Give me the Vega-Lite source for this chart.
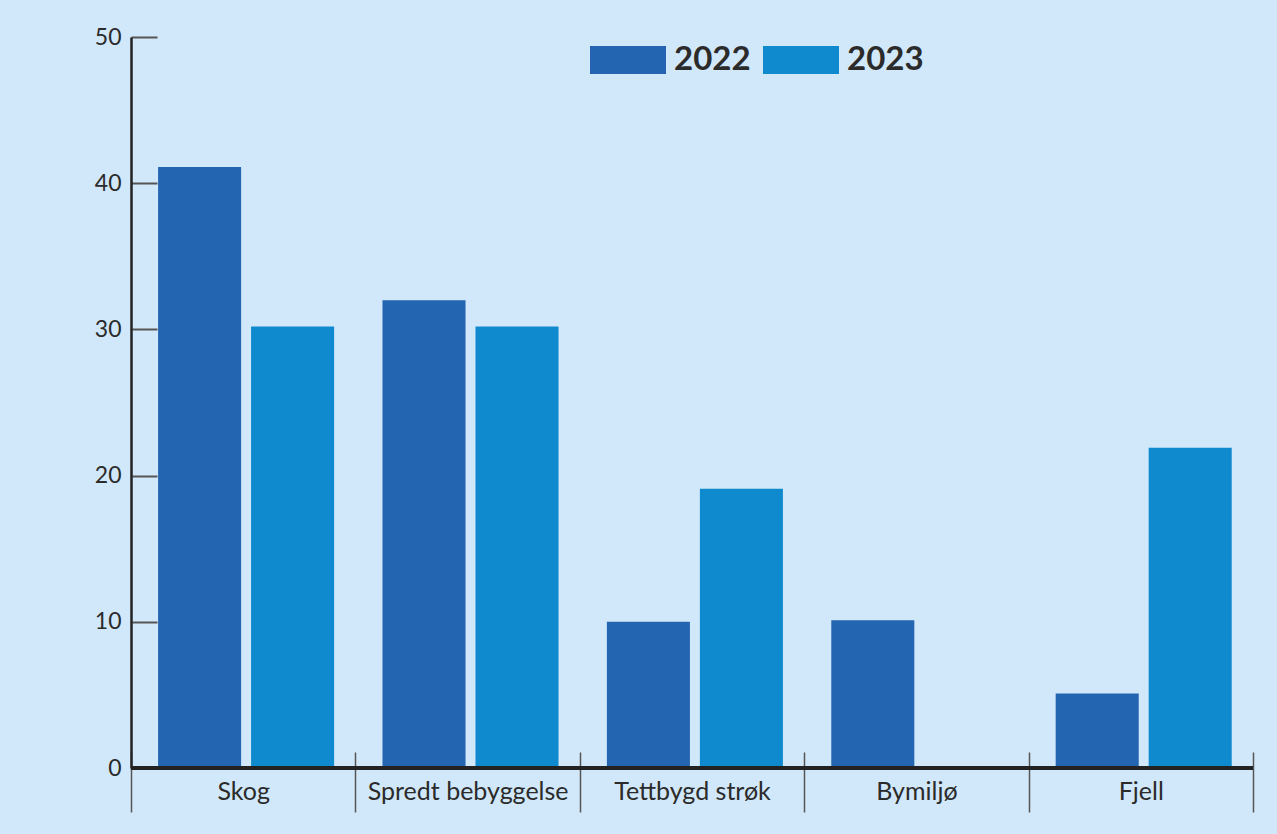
{
  "$schema": "https://vega.github.io/schema/vega-lite/v6.json",
  "autosize": {"type": "none"},
  "width": 1122,
  "height": 731,
  "padding": {"left": 131, "top": 37, "right": 24, "bottom": 66},
  "background": "#d1e8fa",
  "config": {
    "view": {"stroke": null},
    "font": "Lato",
    "axis": {"labelFont": "Lato", "labelColor": "#2b2b2b", "grid": false, "title": null}
  },
  "data": {
    "values": [
      {"kategori": "Skog", "år": "2022", "verdi": 41.1},
      {"kategori": "Skog", "år": "2023", "verdi": 30.2},
      {"kategori": "Spredt bebyggelse", "år": "2022", "verdi": 32.0},
      {"kategori": "Spredt bebyggelse", "år": "2023", "verdi": 30.2},
      {"kategori": "Tettbygd strøk", "år": "2022", "verdi": 10.0},
      {"kategori": "Tettbygd strøk", "år": "2023", "verdi": 19.1},
      {"kategori": "Bymiljø", "år": "2022", "verdi": 10.1},
      {"kategori": "Bymiljø", "år": "2023", "verdi": 0},
      {"kategori": "Fjell", "år": "2022", "verdi": 5.1},
      {"kategori": "Fjell", "år": "2023", "verdi": 21.9}
    ]
  },
  "layer": [
    {
      "mark": {"type": "bar"},
      "encoding": {
        "x": {
          "field": "kategori", "type": "nominal", "sort": null,
          "scale": {"paddingInner": 0, "paddingOuter": 0},
          "axis": {
            "offset": -16, "domain": false, "tickSize": 60, "tickBand": "extent",
            "tickColor": "#555555", "tickWidth": 1.5, "labelAngle": 0,
            "labelFontSize": 25, "labelPadding": -21, "labelBaseline": "middle",
            "labelLimit": 0
          }
        },
        "xOffset": {
          "field": "år", "type": "nominal",
          "scale": {"paddingInner": 0.107, "paddingOuter": 0.26, "align": 0.56}
        },
        "y": {
          "field": "verdi", "type": "quantitative",
          "scale": {"domain": [0, 50], "nice": false},
          "axis": {
            "values": [0, 10, 20, 30, 40, 50], "domainColor": "#222222", "domainWidth": 2.5,
            "tickSize": -26, "tickColor": "#555555", "tickWidth": 2,
            "labelFontSize": 23, "labelPadding": 36
          }
        },
        "color": {
          "field": "år", "type": "nominal",
          "scale": {"domain": ["2022", "2023"], "range": ["#2365b0", "#0f8ace"]},
          "legend": {
            "orient": "none", "legendX": 459, "legendY": -15, "direction": "horizontal",
            "title": null, "symbolType": "M-1,-0.368h2v0.737h-2z", "symbolSize": 5776,
            "symbolStrokeWidth": 0, "symbolOpacity": 1,
            "labelFontSize": 33, "labelFontWeight": "bold", "labelFont": "Lato",
            "labelColor": "#2b2b2b", "labelOffset": 8, "columnPadding": 12, "padding": 0
          }
        }
      }
    },
    {
      "mark": {"type": "rule", "color": "#222222", "strokeWidth": 3},
      "encoding": {"y": {"datum": 0}}
    }
  ]
}
